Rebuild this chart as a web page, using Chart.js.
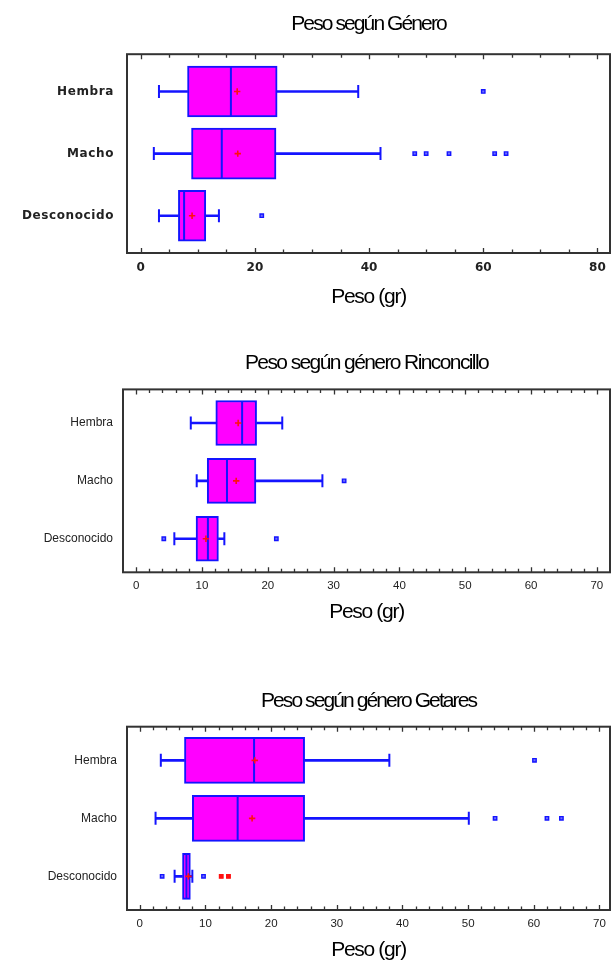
<!DOCTYPE html>
<html>
<head>
<meta charset="utf-8">
<script src="https://cdn.jsdelivr.net/npm/chart.js@4/dist/chart.umd.min.js"></script>
<style>
  html, body { margin: 0; padding: 0; background: #fff; }
  body { width: 611px; height: 960px; position: relative; overflow: hidden; }
  canvas { position: absolute; left: 0; }
</style>
</head>
<body>
<canvas id="c1" width="611" height="320" style="top:0px"></canvas>
<canvas id="c2" width="611" height="300" style="top:330px"></canvas>
<canvas id="c3" width="611" height="300" style="top:660px"></canvas>
<script>
// Categorías (eje vertical, de arriba abajo)
const categorias = ['Hembra', 'Macho', 'Desconocido'];

// Peso según Género
const generoMin = [3.2, 2.3, 3.2];
const generoQ1 = [8.2, 8.9, 6.6];
const generoMediana = [15.8, 14.2, 7.6];
const generoQ3 = [23.9, 23.7, 11.4];
const generoMax = [38.1, 42.0, 13.7];
const generoMedia = [16.9, 17.0, 9.0];
const generoAtipicos = [[60], [48, 50, 54, 62, 64], [21.2]];
const generoExtremos = [[], [], []];
const generoEtiquetasX = [0, 20, 40, 60, 80];

// Peso según género Rinconcillo
const rinconMin = [8.3, 9.2, 5.8];
const rinconQ1 = [12.1, 10.8, 9.1];
const rinconMediana = [16.1, 13.8, 10.9];
const rinconQ3 = [18.3, 18.2, 12.5];
const rinconMax = [22.2, 28.3, 13.4];
const rinconMedia = [15.5, 15.2, 10.6];
const rinconAtipicos = [[], [31.6], [4.2, 21.3]];
const rinconExtremos = [[], [], []];
const rinconEtiquetasX = [0, 10, 20, 30, 40, 50, 60, 70];

// Peso según género Getares
const getaresMin = [3.2, 2.4, 5.3];
const getaresQ1 = [6.8, 8.0, 6.5];
const getaresMediana = [17.4, 14.9, 7.1];
const getaresQ3 = [25.1, 25.1, 7.7];
const getaresMax = [38.0, 50.1, 8.0];
const getaresMedia = [17.5, 17.1, 7.4];
const getaresAtipicos = [[60.1], [54.1, 62.0, 64.2], [3.4, 9.7]];
const getaresExtremos = [[], [], [12.4, 13.5]];
const getaresEtiquetasX = [0, 10, 20, 30, 40, 50, 60, 70];

const AZUL = '#1414ff';
const MAGENTA = '#ff00ff';
const ROJO = '#ff1010';
const FUENTE_TITULO = "'Liberation Sans', Arial, sans-serif";

// Marco del gráfico con marcas hacia dentro arriba y abajo
const marco = {
  id: 'marco',
  afterDatasetsDraw(chart, args, opts) {
    const { ctx, chartArea: a, scales: { x } } = chart;
    ctx.save();
    ctx.strokeStyle = '#333';
    ctx.lineWidth = 1.3;
    for (let v = 0; v <= opts.hasta + 1e-9; v += opts.paso) {
      const px = Math.round(x.getPixelForValue(v)) + 0.5;
      const len = opts.mayores.includes(v) ? 5 : 3.5;
      ctx.beginPath();
      ctx.moveTo(px, a.top); ctx.lineTo(px, a.top + len);
      ctx.moveTo(px, a.bottom); ctx.lineTo(px, a.bottom - len);
      ctx.stroke();
    }
    ctx.lineWidth = 2;
    ctx.strokeRect(a.left, a.top, a.right - a.left, a.bottom - a.top);
    ctx.restore();
  }
};

function puntos(valores) {
  return valores.map((v, i) => ({ x: v, y: i + 1 }));
}
function listas(grupos) {
  return grupos.flatMap((lista, i) => lista.map(v => ({ x: v, y: i + 1 })));
}

// Aplica un espaciado de letras mientras se dibuja un elemento de texto
function conEspaciado(ctx, obj, metodo, valor) {
  const original = obj[metodo];
  obj[metodo] = function (...args) {
    const previo = ctx.letterSpacing;
    ctx.letterSpacing = valor;
    try { return original.apply(this, args); } finally { ctx.letterSpacing = previo; }
  };
}

function crearGrafico(id, d, e) {
  const barra = (datos, grosor, extra) => Object.assign({
    type: 'bar', indexAxis: 'y', grouped: false, barThickness: grosor,
    data: datos, borderSkipped: false
  }, extra);
  const cajas = categorias.map((c, i) => ({ x: [d.q1[i], d.q3[i]], y: i + 1 }));
  const bigoteBajo = categorias.map((c, i) => ({ x: [d.min[i], d.q1[i]], y: i + 1 }));
  const bigoteAlto = categorias.map((c, i) => ({ x: [d.q3[i], d.max[i]], y: i + 1 }));

  const chart = new Chart(document.getElementById(id), {
    type: 'bar',
    data: {
      datasets: [
        barra(bigoteBajo, 2, { backgroundColor: AZUL, borderWidth: 0, order: 6 }),
        barra(bigoteAlto, 2, { backgroundColor: AZUL, borderWidth: 0, order: 6 }),
        barra(cajas, e.caja, { backgroundColor: MAGENTA, borderColor: AZUL, borderWidth: 2, order: 5 }),
        { type: 'scatter', data: puntos(d.min).concat(puntos(d.max)), pointStyle: 'line',
          pointRotation: 90, pointRadius: 6.5, pointBorderWidth: 2, pointBorderColor: AZUL, order: 4 },
        { type: 'scatter', data: puntos(d.mediana), pointStyle: 'line',
          pointRotation: 90, pointRadius: e.caja / 2 - 1, pointBorderWidth: 2, pointBorderColor: AZUL, order: 3 },
        { type: 'scatter', data: listas(d.atipicos), pointStyle: 'rect', pointRadius: 2.4,
          pointBorderWidth: 1.4, pointBorderColor: AZUL, pointBackgroundColor: '#7070ff', order: 2 },
        { type: 'scatter', data: listas(d.extremos), pointStyle: 'rect', pointRadius: 2.6,
          pointBorderWidth: 1.2, pointBorderColor: ROJO, pointBackgroundColor: ROJO, order: 2 },
        { type: 'scatter', data: puntos(d.media), pointStyle: 'cross', pointRadius: 3.2,
          pointBorderWidth: 1.6, pointBorderColor: ROJO, order: 1 }
      ]
    },
    options: {
      responsive: false,
      animation: false,
      events: [],
      layout: { autoPadding: false, padding: { left: 0, right: 1, top: 0, bottom: 0 } },
      plugins: {
        legend: { display: false },
        tooltip: { enabled: false },
        title: {
          display: true, fullSize: false, text: e.titulo, color: '#000',
          font: { family: FUENTE_TITULO, size: 21, weight: 'normal', lineHeight: 1.2 },
          padding: { top: e.tituloArriba, bottom: e.tituloAbajo }
        },
        marco: { paso: e.paso, hasta: e.hasta, mayores: d.etiquetasX }
      },
      scales: {
        x: {
          type: 'linear', min: e.xMin, max: e.xMax, offset: false, bounds: 'data',
          afterBuildTicks: s => { s.ticks = d.etiquetasX.map(v => ({ value: v })); },
          afterFit: s => { s.height = e.altoX; s.paddingLeft = 0; s.paddingRight = 0; },
          grid: { display: false, drawTicks: false, offset: false },
          border: { display: false },
          ticks: { autoSkip: false, maxRotation: 0, padding: e.padX, color: '#222', font: e.fuenteTicks },
          title: {
            display: true, text: 'Peso (gr)', color: '#000',
            font: { family: FUENTE_TITULO, size: 21, weight: 'normal', lineHeight: 1.2 },
            padding: { top: 0, bottom: e.ejeAbajo }
          }
        },
        y: {
          type: 'linear', reverse: true, min: e.yMin, max: e.yMax, offset: false, bounds: 'data',
          afterBuildTicks: s => { s.ticks = categorias.map((c, i) => ({ value: i + 1 })); },
          afterFit: s => { s.width = e.anchoY; s.paddingTop = 0; s.paddingBottom = 0; },
          grid: { display: false, drawTicks: false, offset: false },
          border: { display: false },
          ticks: { callback: v => categorias[v - 1], padding: e.padY, color: '#222', font: e.fuenteEtiquetas }
        }
      }
    },
    plugins: [marco]
  });

  const ctx = chart.ctx;
  conEspaciado(ctx, chart.titleBlock, 'draw', e.espTitulo);
  conEspaciado(ctx, chart.scales.x, 'drawTitle', e.espEje);
  conEspaciado(ctx, chart.scales.y, 'drawLabels', e.espEtiquetas);
  chart.draw();
}

crearGrafico('c1', {
  min: generoMin, q1: generoQ1, mediana: generoMediana, q3: generoQ3, max: generoMax,
  media: generoMedia, atipicos: generoAtipicos, extremos: generoExtremos, etiquetasX: generoEtiquetasX
}, {
  titulo: 'Peso según Género', tituloArriba: 12, tituloAbajo: 17,
  xMin: -2.4, xMax: 82.2, paso: 5, hasta: 80, yMin: 0.4, yMax: 3.6,
  altoX: 67, anchoY: 127, padX: 8, padY: 13, ejeAbajo: 10, caja: 51,
  espTitulo: '-1.9px', espEje: '-1.3px', espEtiquetas: '0.6px',
  fuenteTicks: { family: "'DejaVu Sans', sans-serif", size: 12, weight: 'bold' },
  fuenteEtiquetas: { family: "'DejaVu Sans', sans-serif", size: 12, weight: 'bold' }
});

crearGrafico('c2', {
  min: rinconMin, q1: rinconQ1, mediana: rinconMediana, q3: rinconQ3, max: rinconMax,
  media: rinconMedia, atipicos: rinconAtipicos, extremos: rinconExtremos, etiquetasX: rinconEtiquetasX
}, {
  titulo: 'Peso según género Rinconcillo', tituloArriba: 20.5, tituloAbajo: 13.7,
  xMin: -2, xMax: 72, paso: 2, hasta: 70, yMin: 0.42, yMax: 3.58,
  altoX: 57.7, anchoY: 123, padX: 7, padY: 10, ejeAbajo: 5.5, caja: 45,
  espTitulo: '-1.6px', espEje: '-1.3px', espEtiquetas: '0px',
  fuenteTicks: { family: "'Liberation Sans', sans-serif", size: 11.5 },
  fuenteEtiquetas: { family: "'Liberation Sans', sans-serif", size: 12 }
});

crearGrafico('c3', {
  min: getaresMin, q1: getaresQ1, mediana: getaresMediana, q3: getaresQ3, max: getaresMax,
  media: getaresMedia, atipicos: getaresAtipicos, extremos: getaresExtremos, etiquetasX: getaresEtiquetasX
}, {
  titulo: 'Peso según género Getares', tituloArriba: 28.5, tituloAbajo: 13,
  xMin: -1.95, xMax: 71.6, paso: 2, hasta: 70, yMin: 0.42, yMax: 3.58,
  altoX: 50, anchoY: 127, padX: 6.7, padY: 10, ejeAbajo: -2.5, caja: 46,
  espTitulo: '-1.9px', espEje: '-1.3px', espEtiquetas: '0px',
  fuenteTicks: { family: "'Liberation Sans', sans-serif", size: 11.5 },
  fuenteEtiquetas: { family: "'Liberation Sans', sans-serif", size: 12 }
});
</script>
</body>
</html>
